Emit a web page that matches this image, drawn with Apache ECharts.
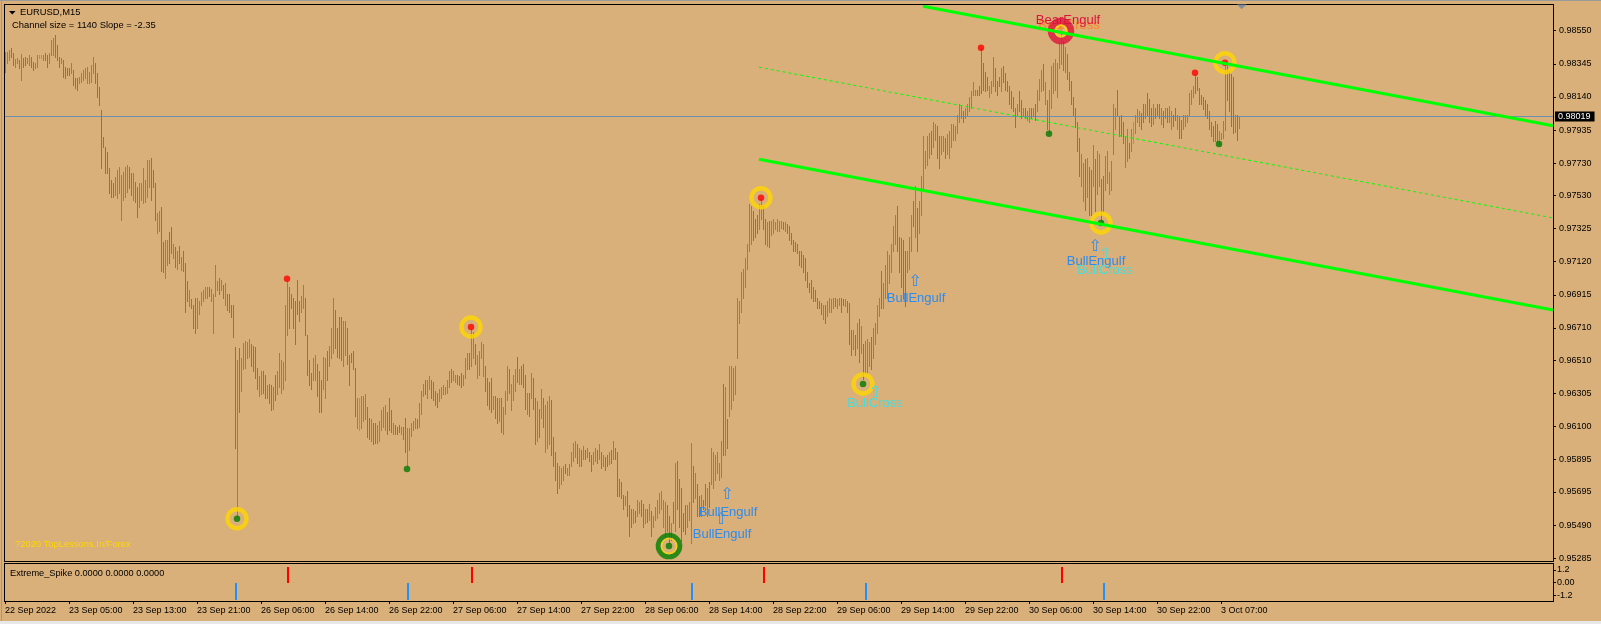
<!DOCTYPE html>
<html><head><meta charset="utf-8">
<script src="https://cdn.jsdelivr.net/npm/echarts@6/dist/echarts.min.js"></script>
<style>html,body{margin:0;padding:0;background:#D9AF7A;}#c{width:1601px;height:624px;}</style>
</head><body><div id="c"></div>
<script>
// ---------- DATA ----------
const BASE = 0.95, PT = 0.00001;           // bar values are points above 0.95000
const priceTicks = [0.98550,0.98345,0.98140,0.97935,0.97730,0.97530,0.97325,0.97120,0.96915,0.96710,0.96510,0.96305,0.96100,0.95895,0.95695,0.95490,0.95285];
const timeLabels = ['22 Sep 2022','23 Sep 05:00','23 Sep 13:00','23 Sep 21:00','26 Sep 06:00','26 Sep 14:00','26 Sep 22:00','27 Sep 06:00','27 Sep 14:00','27 Sep 22:00','28 Sep 06:00','28 Sep 14:00','28 Sep 22:00','29 Sep 06:00','29 Sep 14:00','29 Sep 22:00','30 Sep 06:00','30 Sep 14:00','30 Sep 22:00','3 Oct 07:00'];
const barsPerLabel = 32;
const subTicks = [1.2, 0, -1.2];
const subTickLabels = ['1.2', '0.00', '-1.2'];

const hi = [
3418,3416,3431,3445,3410,3373,3379,3369,3404,3379, 3389,3379,3400,3389,3358,3348,3400,3400,3400,3400,
3410,3400,3414,3492,3503,3523,3461,3389,3379,3369, 3327,3317,3317,3348,3307,3255,3255,3265,3286,3307,
3317,3327,3296,3338,3389,3348,3286,3203,3060,2894, 2832,2801,2698,2626,2605,2646,2688,2708,2657,2677,
2708,2719,2708,2667,2667,2615,2584,2605,2605,2698, 2626,2750,2750,2760,2688,2605,2420,2431,2457,2242,
2253,2253,2302,2335,2231,2209,2187,2220,2147,2187, 2109,1998,1943,1887,1854,1898,1898,1876,1932,1947,
1965,1965,1965,1954,1920,2098,1998,2020,2009,1976, 1987,1920,1920,1854,1854,1592,1510,1588,1521,1614,
1632,1621,1643,1610,1599,1592,1465,1410,1443,1443, 1421,1354,1366,1354,1343,1421,1443,1554,1510,1499,
1854,2000,1965,1920,1898,1876,2009,1876,1909,1976, 1898,1665,1510,1432,1521,1543,1488,1443,1388,1532,
1521,1565,1599,1710,1898,1820,1710,1776,1776,1754, 1754,1710,1543,1554,1565,1465,1277,1277,1288,1288,
1299,1221,1155,1144,1122,1122,1111,1133,1199,1221, 1232,1188,1277,1199,1122,1111,1099,1111,1099,1099,
1155,1088,1088,1122,1133,1155,1144,1244,1321,1366, 1388,1388,1410,1388,1377,1321,1310,1332,1343,1354,
1343,1388,1443,1454,1443,1421,1421,1410,1432,1421, 1521,1554,1554,1705,1687,1610,1543,1565,1621,1610,
1477,1399,1377,1399,1288,1288,1277,1277,1277,1221, 1321,1477,1454,1366,1421,1454,1532,1454,1477,1488,
1421,1310,1310,1432,1399,1277,1255,1210,1332,1277, 1232,1255,1288,1266,1033,944,877,855,844,855,
866,844,866,944,999,1011,989,966,955,977, 955,966,944,922,944,966,955,989,944,922,
911,922,944,955,1011,966,944,778,755,678, 667,700,611,589,589,578,644,633,644,622,
589,589,622,578,545,600,644,689,700,644, 633,611,545,500,633,877,889,778,722,567,
611,611,633,999,855,811,744,667,678,644, 744,722,755,966,944,922,944,877,1011,1366,
1343,1144,1477,1477,1465,1477,1898,1876,2054,2076, 2142,2231,2475,2464,2431,2386,2409,2475,2508,2464,
2386,2364,2375,2375,2386,2364,2386,2375,2375,2364, 2364,2353,2342,2298,2253,2242,2231,2187,2187,2164,
2142,2054,1987,2009,1965,1943,1898,1876,1865,1854, 1854,1876,1898,1887,1898,1898,1887,1898,1898,1887,
1887,1876,1865,1699,1699,1665,1743,1765,1721,1610, 1632,1643,1621,1654,1710,1743,1854,1898,2065,1987,
2098,2187,2164,2231,2342,2409,2464,2276,2264,2253, 2187,2187,2276,2409,2497,2586,2453,2497,2653,2897,
2808,2897,2919,2930,2986,2974,2963,2897,2897,2897, 2886,2908,2930,2974,2974,2963,3030,3096,3085,3052,
3074,3096,3141,3174,3230,3185,3185,3207,3440,3352, 3296,3263,3207,3241,3385,3318,3241,3263,3318,3329,
3285,3241,3207,3174,3141,3074,3096,3174,3119,3074, 3074,3052,3074,3074,3074,3096,3185,3252,3307,3341,
3230,3119,3185,3329,3352,3374,3352,3474,3529,3485, 3452,3407,3296,3241,3141,3074,2986,2886,2786,2730,
2753,2764,2708,2686,2841,2753,2808,2786,2630,2653, 2775,2808,2675,2741,3096,3074,3185,3019,3030,2986,
2897,2941,2852,2941,2986,3030,3063,3052,3041,3096, 3096,3163,3130,3074,3096,3074,3096,3096,3074,3052,
3074,3074,3085,3052,3030,3074,3030,3019,2997,3030, 3030,3030,3163,3185,3207,3280,3263,3196,3152,3141,
3119,3096,3052,2986,2960,2990,2975,2930,2917,2990, 3350,3340,3300,3280,3263,3028,3028,3016
];
const lo = [
3294,3348,3369,3389,3338,3327,3348,3317,3245,3327, 3338,3348,3338,3327,3307,3317,3327,3379,3379,3369,
3369,3327,3348,3400,3400,3389,3369,3327,3348,3265, 3255,3276,3276,3286,3214,3193,3183,3224,3234,3245,
3255,3224,3224,3234,3286,3224,3141,3090,2698,2832, 2667,2667,2543,2522,2522,2533,2513,2543,2378,2502,
2522,2553,2574,2533,2502,2492,2399,2461,2502,2482, 2492,2522,2584,2500,2584,2378,2298,2309,2065,2054,
2020,2098,2109,2176,2142,2087,2076,2109,2071,2065, 1809,1876,1843,1832,1710,1676,1710,1798,1854,1876,
1898,1898,1909,1876,1676,1909,1943,1920,1943,1898, 1854,1820,1809,1776,1654,966,545,1188,1321,1454,
1465,1521,1532,1477,1443,1399,1332,1288,1299,1310, 1277,1277,1244,1199,1210,1266,1299,1343,1310,1332,
1388,1665,1710,1832,1710,1610,1798,1754,1809,1832, 1665,1421,1354,1332,1388,1388,1288,1188,1188,1332,
1277,1388,1477,1521,1554,1588,1532,1521,1510,1477, 1543,1488,1354,1499,1454,1166,1088,1077,1088,1133,
1144,1033,1022,1011,989,1000,1000,1011,1077,1099, 1077,1055,1077,1066,1055,1055,1055,1066,1055,1022,
944,855,955,1044,1077,1088,1088,1099,1177,1288, 1299,1277,1332,1277,1266,1233,1221,1255,1277,1299,
1299,1310,1343,1377,1388,1377,1366,1354,1343,1354, 1399,1454,1454,1477,1521,1488,1399,1421,1521,1410,
1321,1233,1210,1188,1210,1155,1122,1133,1066,1055, 1177,1266,1310,1199,1266,1321,1377,1366,1366,1343,
1210,1177,1166,1277,1210,989,1011,1033,1155,1099, 944,966,989,922,855,767,689,722,744,767,
811,800,800,855,889,911,877,855,855,900, 900,911,889,822,866,889,877,900,844,855,
833,855,866,877,900,900,667,667,656,589, 611,545,423,478,500,511,545,567,545,478,
500,511,522,423,478,522,534,567,589,478, 411,456,378,400,500,456,589,478,389,456,
434,478,522,378,633,656,545,545,545,589, 611,545,600,744,722,767,811,767,789,922,
922,966,1166,1210,1266,1299,1521,1743,1809,1898, 1965,2076,2187,2231,2253,2276,2298,2320,2386,2320,
2231,2220,2209,2287,2298,2320,2309,2309,2331,2320, 2309,2298,2253,2231,2187,2187,2176,2098,2087,2054,
2009,1965,1932,1898,1876,1876,1832,1832,1798,1765, 1743,1787,1809,1809,1832,1843,1832,1854,1809,1854,
1843,1809,1610,1543,1577,1543,1588,1499,1554,1395, 1432,1432,1477,1454,1521,1610,1676,1787,1832,1832,
1898,1898,1987,2054,2187,2231,2187,2054,1965,1898, 1843,2054,2076,2187,2342,2276,2187,2298,2409,2564,
2697,2719,2764,2786,2830,2875,2764,2697,2786,2808, 2764,2786,2764,2830,2875,2875,2919,2986,3008,2986,
3008,3030,3052,3074,3152,3152,3152,3152,3163,3185, 3174,3185,3141,3163,3207,3174,3152,3207,3174,3230,
3185,3174,3096,3074,3052,2952,3030,3052,3008,3019, 3008,2997,2986,3008,3019,2997,3052,3119,3174,3185,
3096,2941,2919,3074,3163,3185,3141,3318,3341,3307, 3296,3252,3185,3096,3030,2952,2808,2653,2586,2497,
2442,2520,2409,2409,2586,2431,2542,2586,2375,2431, 2564,2608,2542,2564,2786,2941,3030,2897,2897,2852,
2708,2741,2764,2808,2852,2919,2986,2963,2941,2986, 3008,3030,2986,2963,2974,3008,3030,3008,2974,2952,
3008,2986,2986,2941,2963,2997,2941,2886,2886,2941, 2963,2986,3030,3096,3141,3163,3185,3096,3096,3063,
3030,3008,2941,2897,2870,2865,2861,2850,2880,2886, 2935,3120,3050,2960,2917,2923,2874,2948
];
// u = up bar (blue), d = down bar (orange), g = doji (green)
const dir =
"uuudduudud"+"duudduuggu"+"dduuudddud"+"ddduddduuu"+"uuuuuddddd"+"ddddduuuuu"+"uuddudduuu"+"uuuddduudd"+
"uuddududud"+"dduddduuuu"+"uuduuuudud"+"uddddduduu"+"uuudddduud"+"dudduduuuu"+"uudddddduu"+"dddduudddu"+
"uduuuddddu"+"uddddduguu"+"uddudduuuu"+"udddudddud"+"duuuuuduuu"+"duudddduuu"+"uuuduudddu"+"uuduuduuuu"+
"dddduddudu"+"uuduuududd"+"dududdudud"+"uuudddduuu"+"duuuuududu"+"dudduududu"+"ddududdddd"+"uddduduudd"+
"ududuuuuuu"+"uddududddd"+"duuududdud"+"duduuuuuud"+"uduuuuuuuu"+"uuuuddduud"+"duduuuuuud"+"uddddddddd"+
"dddddddddu"+"duuuuduudd"+"udddududud"+"uuuduuuudu"+"uuuuuudddd"+"duuududuuu"+"uuuduudduu"+"duuuuuuuud"+
"uuuuuudddd"+"dduuudddud"+"dddddduddu"+"duududuuud"+"uduuuuuuud"+"uddddddduu"+"dudduduudd"+"uuuuuudddd"+
"uuduguuudd"+"udddudddud"+"uduudduddu"+"uuuuuddddd"+"ddddddduuu"+"uddddudu";

const currentPrice = 0.98019;
// channel (slope -2.35 points/bar, size 1140 points): [barIndex, points]
const channelUpper = [[459, 3701], [774, 2961]];
const channelMid   = [[377, 3324], [774, 2391]];
const channelLower = [[377, 2754], [774, 1821]];
// signal markers: [barIndex, points]
const goldRings  = [[116,529],[233,1716],[378,2516],[429,1363],[548,2360],[610,3352]];
const greenRing  = [[332,360]];
const crimsonRing= [[528,3548]];
const redDots    = [[141,2015],[233,1716],[378,2516],[488,3445],[595,3290],[610,3352]];
const greenDots  = [[116,529],[201,837],[332,360],[429,1363],[522,2912],[548,2360],[607,2849]];
const bullEngulfText  = [[361.5,568],[358.5,434],[455.5,1894],[545.5,2124]];
const bullEngulfArrow = [[361,678],[358,523],[455,1998],[545,2209]];
const bullCrossText   = [[435,1244],[550,2065]];
const bullCrossArrow  = [[435,1310],[550,2165]];
const bearEngulfText  = [[531.5,3616]];
const bearCrossText   = [[532,3582]];
// Extreme_Spike indicator
const spikeIdx = [115,141,201,233,343,379,430,528,549];
const spikeVal = [-1.6,1.5,-1.6,1.5,-1.6,1.5,-1.6,1.5,-1.6];

// ---------- CHART ----------
const P = v => BASE + v * PT;
const FONT = '"Liberation Sans", Arial, sans-serif';
const BAR_COL = ['#1BA2E2', '#F24C14', '#3CD23C'];
const code = {u:0, d:1, g:2};
const n = Math.min(hi.length, lo.length, dir.length);
const barData = [];
for (let i = 0; i < n; i++) barData.push([i, P(hi[i]), P(lo[i]), code[dir[i]]]);
const timeTicks = timeLabels.map((_, k) => k * barsPerLabel);
const pts = arr => arr.map(a => [a[0], P(a[1])]);

function textSeries(data, text, color, size, family, z) {
  return {
    type: 'custom', xAxisIndex: 0, yAxisIndex: 0, silent: true, z: z,
    data: pts(data), encode: {x: 0, y: 1},
    renderItem: (params, api) => {
      const p = api.coord([api.value(0), api.value(1)]);
      return {type: 'text', style: {x: p[0], y: p[1], text: text, fill: color,
        font: size + 'px ' + family, align: 'center', verticalAlign: 'middle'}};
    }
  };
}
function ringSeries(data, size, color, width, z) {
  return {type: 'scatter', xAxisIndex: 0, yAxisIndex: 0, silent: true, z: z,
    data: pts(data), symbol: 'circle', symbolSize: size,
    itemStyle: {color: 'rgba(0,0,0,0)', borderColor: color, borderWidth: width}};
}
function dotSeries(data, color, z) {
  return {type: 'scatter', xAxisIndex: 0, yAxisIndex: 0, silent: true, z: z,
    data: pts(data), symbol: 'circle', symbolSize: 6.5, itemStyle: {color: color}};
}
function lineSeries(data, width, type) {
  return {type: 'line', xAxisIndex: 0, yAxisIndex: 0, silent: true, z: 6, data: pts(data),
    showSymbol: false, symbol: 'none', clip: true,
    lineStyle: {color: '#00FF00', width: width, type: type}};
}

const chart = echarts.init(document.getElementById('c'), null, {renderer: 'canvas'});
const axisText = {color: '#000', fontSize: 9, fontFamily: FONT};
const option = {
  backgroundColor: '#D9AF7A',
  animation: false,
  grid: [
    {left: 5, top: 4, width: 1548, height: 557, show: false},
    {left: 5, top: 563, width: 1548, height: 38, show: false}
  ],
  xAxis: [
    {type: 'value', gridIndex: 0, min: 0, max: 774, show: false, axisLine: {onZero: false}},
    {type: 'value', gridIndex: 1, min: 0, max: 774, position: 'bottom',
     axisLine: {show: false, onZero: false}, splitLine: {show: false},
     axisTick: {show: true, length: 3, lineStyle: {color: '#000'}, customValues: timeTicks},
     axisLabel: Object.assign({show: true, customValues: timeTicks, align: 'left', margin: 5,
       formatter: v => timeLabels[Math.round(v / barsPerLabel)] || ''}, axisText)}
  ],
  yAxis: [
    {type: 'value', gridIndex: 0, position: 'right', min: 0.952674, max: 0.987152,
     splitLine: {show: false}, axisLine: {show: false, onZero: false},
     axisTick: {show: true, length: 3, lineStyle: {color: '#000'}, customValues: priceTicks},
     axisLabel: Object.assign({customValues: priceTicks, margin: 6, formatter: v => v.toFixed(5)}, axisText)},
    {type: 'value', gridIndex: 1, position: 'right', min: -1.73, max: 1.86,
     splitLine: {show: false}, axisLine: {show: false, onZero: false},
     axisTick: {show: true, length: 3, lineStyle: {color: '#000'}, customValues: subTicks},
     axisLabel: Object.assign({customValues: subTicks, margin: 4,
       formatter: v => subTickLabels[subTicks.findIndex(t => Math.abs(t - v) < 1e-9)]}, axisText)}
  ],
  series: [
    // current price line + label
    {type: 'custom', xAxisIndex: 0, yAxisIndex: 0, silent: true, z: 1,
     data: [[0, currentPrice]], encode: {x: 0, y: 1},
     renderItem: (params, api) => {
       const cs = params.coordSys;
       const y = Math.floor(api.coord([0, api.value(1)])[1]);
       return {type: 'group', children: [
         {type: 'rect', shape: {x: cs.x, y: y, width: cs.width, height: 1}, style: {fill: '#6F8FAE'}},
         {type: 'text', style: {x: cs.x + cs.width + 2, y: y + 0.5, text: api.value(1).toFixed(5),
           fill: '#fff', backgroundColor: '#000', padding: [1, 4, 0, 3], lineHeight: 9,
           font: '9px ' + FONT, verticalAlign: 'middle'}}
       ]};
     }},
    // price bars (high-low)
    {type: 'custom', xAxisIndex: 0, yAxisIndex: 0, silent: true, z: 2,
     data: barData, encode: {x: 0, y: [1, 2]},
     renderItem: (params, api) => {
       const i = api.value(0);
       const a = api.coord([i, api.value(1)]), b = api.coord([i, api.value(2)]);
       const x = Math.round(a[0]), y1 = Math.round(a[1]), y2 = Math.round(b[1]);
       return {type: 'rect', shape: {x: x, y: y1, width: 1, height: Math.max(1, y2 - y1 + 1)},
               style: {fill: BAR_COL[api.value(3)]}};
     }},
    // Extreme_Spike histogram
    {type: 'custom', xAxisIndex: 1, yAxisIndex: 1, silent: true, z: 2,
     data: spikeIdx.map((x, k) => [x, spikeVal[k]]), encode: {x: 0, y: 1},
     renderItem: (params, api) => {
       const v = api.value(1);
       const a = api.coord([api.value(0), v]), b = api.coord([api.value(0), 0]);
       const y1 = Math.round(Math.min(a[1], b[1])), y2 = Math.round(Math.max(a[1], b[1]));
       return {type: 'rect', shape: {x: Math.round(a[0]), y: y1, width: 2, height: y2 - y1},
               style: {fill: v > 0 ? '#FF0000' : '#1E90FF'}};
     }},
    textSeries(bearCrossText, 'BearCross', '#FF7F27', 13, FONT, 3),
    ringSeries(goldRings, 19, '#FFD700', 4.4, 4),
    ringSeries(greenRing, 21.8, '#008000', 4.8, 4),
    ringSeries(greenRing, 15, '#FFD700', 1.6, 4),
    ringSeries(crimsonRing, 20, '#DC143C', 6.5, 4),
    ringSeries(crimsonRing, 11, '#FFD700', 2, 4),
    textSeries(crimsonRing, '⇩', '#FF6A00', 9, '"DejaVu Sans"', 5),
    dotSeries(redDots, '#FF0000', 5),
    dotSeries(greenDots, '#007A00', 5),
    lineSeries(channelUpper, 3, 'solid'),
    lineSeries(channelLower, 3, 'solid'),
    lineSeries(channelMid, 1, [3, 3]),
    textSeries(bullEngulfText, 'BullEngulf', '#2E8BEF', 13, FONT, 7),
    textSeries(bullEngulfArrow, '⇧', '#2E8BEF', 16, '"DejaVu Sans"', 7),
    textSeries(bullCrossText, 'BullCross', '#40E0E0', 13, FONT, 7),
    textSeries(bullCrossArrow, '⇧', '#40E0E0', 16, '"DejaVu Sans"', 7),
    textSeries(bearEngulfText, 'BearEngulf', '#DC143C', 13, FONT, 7)
  ],
  graphic: [
    {type: 'rect', shape: {x: 0, y: 0, width: 1601, height: 1}, style: {fill: '#9A9A9A'}, z: 100},
    {type: 'rect', shape: {x: 1, y: 0, width: 1, height: 621}, style: {fill: '#9A9A9A'}, z: 100},
    {type: 'rect', shape: {x: 0, y: 621, width: 1601, height: 3}, style: {fill: '#E8E8E8'}, z: 100},
    // main panel frame
    {type: 'rect', shape: {x: 4, y: 4, width: 1550, height: 1}, style: {fill: '#000'}, z: 100},
    {type: 'rect', shape: {x: 4, y: 561, width: 1550, height: 1}, style: {fill: '#000'}, z: 100},
    {type: 'rect', shape: {x: 4, y: 4, width: 1, height: 558}, style: {fill: '#000'}, z: 100},
    {type: 'rect', shape: {x: 1553, y: 4, width: 1, height: 558}, style: {fill: '#000'}, z: 100},
    // sub panel frame
    {type: 'rect', shape: {x: 4, y: 563, width: 1550, height: 1}, style: {fill: '#000'}, z: 100},
    {type: 'rect', shape: {x: 4, y: 601, width: 1550, height: 1}, style: {fill: '#000'}, z: 100},
    {type: 'rect', shape: {x: 4, y: 563, width: 1, height: 39}, style: {fill: '#000'}, z: 100},
    {type: 'rect', shape: {x: 1553, y: 563, width: 1, height: 39}, style: {fill: '#000'}, z: 100},
    // header
    {type: 'polygon', shape: {points: [[9, 11], [15.5, 11], [12.25, 14.5]]}, style: {fill: '#000'}, z: 100},
    {type: 'text', style: {x: 20, y: 12.5, text: 'EURUSD,M15', fill: '#000', font: '9.4px ' + FONT, verticalAlign: 'middle'}, z: 100},
    {type: 'text', style: {x: 12, y: 25.5, text: 'Channel size = 1140 Slope = -2.35', fill: '#000', font: '9.4px ' + FONT, verticalAlign: 'middle'}, z: 100},
    {type: 'text', style: {x: 15, y: 544.8, text: '?2020 TopLessons.In/Forex', fill: '#FFD700', font: '9.4px ' + FONT, verticalAlign: 'middle'}, z: 100},
    {type: 'text', style: {x: 10, y: 573.2, text: 'Extreme_Spike 0.0000 0.0000 0.0000', fill: '#000', font: '9.2px ' + FONT, verticalAlign: 'middle'}, z: 100},
    {type: 'polygon', shape: {points: [[1237, 4.5], [1246.5, 4.5], [1241.7, 9.3]]}, style: {fill: '#7F8FA0'}, z: 100}
  ]
};
chart.setOption(option);
</script>
</body></html>
